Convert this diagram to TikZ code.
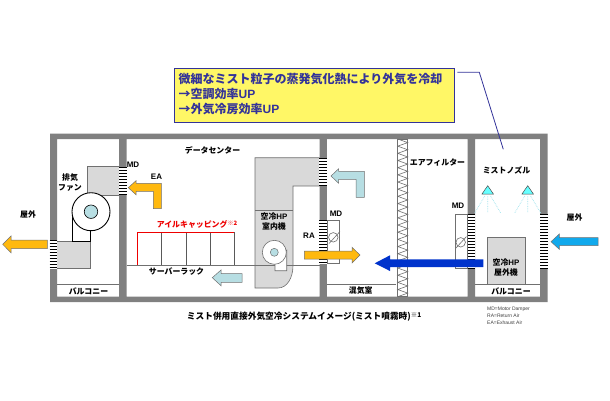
\documentclass[tikz,border=0pt]{standalone}
\usepackage{fontspec}
\setmainfont{Liberation Sans}
\newfontfamily\cjk{Noto Sans CJK JP}
\definecolor{wallg}{HTML}{808080}
\definecolor{boxg}{HTML}{D9D9D9}
\definecolor{edgeg}{HTML}{707070}
\definecolor{paleb}{HTML}{B7DEE3}
\definecolor{orng}{HTML}{FFB90F}
\definecolor{navy}{HTML}{333399}
\definecolor{deepb}{HTML}{0033CC}
\definecolor{skyb}{HTML}{11A9EC}
\definecolor{noz}{HTML}{66FFFF}
\definecolor{spray}{HTML}{9FE3EE}
\definecolor{capred}{HTML}{EE0000}
\newcommand{\mylatin}[1]{{\rmfamily\bfseries #1}}
\newcommand{\mylouver}[3]{%
  \fill[white] (#1,#2) rectangle ++(7.5,#3-#2);
  \foreach \yy in {#2,...,#3}{\pgfmathparse{mod(\yy-#2,3)==0}\ifnum\pgfmathresult=1 \draw[black,line width=1pt] (#1,\yy+0.5) -- ++(7.5,0);\fi}}
\tikzset{
  lab/.style={font=\cjk\bfseries\fontsize{7.9}{9}\selectfont,inner sep=0pt,align=center},
  lat/.style={font=\bfseries\fontsize{8}{9}\selectfont,inner sep=0pt},
  gbox/.style={fill=boxg,draw=edgeg,line width=0.6pt},
  thin1/.style={draw=edgeg,line width=0.6pt},
  orarrow/.style={fill=orng,draw=edgeg,line width=0.5pt},
  palearrow/.style={fill=paleb,draw=edgeg,line width=0.5pt},
  fanline/.style={draw=black,line width=0.9pt},
  calltext/.style={anchor=west,inner sep=0pt,text=navy,font=\cjk\bfseries\fontsize{12}{12}\selectfont},
  legend/.style={anchor=west,inner sep=0pt,text=black!75,font=\fontsize{5}{6}\selectfont},
}
\begin{document}
\begin{tikzpicture}[x=1pt,y=-1pt]
\useasboundingbox (0,0) rectangle (610,400);
\fill[white] (0,0) rectangle (610,400);
% walls
\fill[wallg,even odd rule] (50,133.5) rectangle (547.5,302)
  (57,139) rectangle (119,296.7) (126.5,139) rectangle (319.5,296.7)
  (326.8,139) rectangle (467.5,296.7) (475,139) rectangle (540,296.7);
% balcony and floor lines
\draw[thin1] (57,284) -- (119,284);
\draw[thin1] (475,284) -- (540,284);
\draw[thin1] (326.8,284) -- (395.7,284);
\draw[thin1] (126.5,265.4) -- (319.5,265.4);
% filter
\draw[thin1,fill=white] (397.7,139) rectangle (407.7,296.7);
\draw[draw=edgeg,line width=0.6pt] (397.7,139)
  \foreach \k in {1,...,22}{ -- (407.7,139+7.168*\k-3.584) -- (397.7,139+7.168*\k)};
% exhaust ducts
\draw[gbox] (119,166.7) -- (87.3,166.7) -- (87.3,195.3) -- (119,195.3);
\draw[gbox] (57,241) -- (90.3,241) -- (90.3,268.3) -- (57,268.3);
\draw[fanline] (72,215) -- (72,241) -- (90.3,241) -- (90.3,225);
\node[circle,draw=black,line width=0.9pt,fill=white,minimum size=38pt,inner sep=0pt] (fanA) at (91,211.7) {};
\node[circle,draw=black,line width=0.6pt,fill=paleb,minimum size=13.5pt,inner sep=0pt] (hubA) at (91,211.7) {};
% indoor unit
\draw[gbox] (319.5,157.7) -- (255,157.7) -- (255,288) -- (278,288)
  .. controls (287,288) and (293,278) .. (293,265.4) -- (293,186) -- (319.5,186);
\draw[thin1] (255,210) -- (293,210);
\draw[thin1] (255,265.4) -- (293,265.4);
\draw[draw=edgeg,line width=0.6pt,fill=white] (275,262) -- (275,270.7) -- (286.7,270.7) -- (286.7,250) -- cycle;
\node[circle,draw=edgeg,line width=0.6pt,fill=white,minimum size=24pt,inner sep=0pt] (fanB) at (274.3,252.3) {};
\node[circle,draw=edgeg,line width=0.5pt,fill=paleb,minimum size=8pt,inner sep=0pt] (hubB) at (274.3,252.3) {};
% aisle capping
\draw[draw=black!65,line width=0.7pt] (161.7,232.3) -- (161.7,265.4) (186,232.3) -- (186,265.4) (210.3,232.3) -- (210.3,265.4) (234.3,232.3) -- (234.3,265.4);
\draw[capred,line width=0.9pt] (137.2,265.4) -- (137.2,232.3) -- (234.3,232.3);
% outdoor unit
\draw[gbox] (487.3,284) -- (487.3,237.3) -- (525.3,237.3) -- (525.3,284);
% MD boxes
\draw[thin1,fill=white] (326.8,220.7) rectangle (339.3,263.3);
\draw[thin1,fill=white] (455,214) rectangle (467.5,268.3);
\node[circle,draw=edgeg,line width=0.6pt,minimum size=9.5pt,inner sep=0pt] (damA) at (333.3,237.3) {};
\node[circle,draw=edgeg,line width=0.6pt,minimum size=9.5pt,inner sep=0pt] (damB) at (460.7,242.3) {};
\draw[draw=edgeg,line width=0.6pt] (329,243.5) -- (340,231.5);
\draw[draw=edgeg,line width=0.6pt] (455.5,248.5) -- (466.5,236.5);
% louvers
\mylouver{119}{167}{195}
\mylouver{49.5}{240}{269}
\mylouver{319.3}{158}{186}
\mylouver{319.3}{220}{264}
\mylouver{467.5}{214}{269}
\mylouver{540}{214}{269}
% arrows
\draw[orarrow] (128.3,187.7) -- (136,180.7) -- (136,183.3) -- (161.3,183.3) -- (161.3,208.7) -- (153.3,208.7) -- (153.3,191.3) -- (136,191.3) -- (136,194.7) -- cycle;
\draw[orarrow] (2.7,244.3) -- (11,236) -- (11,240) -- (47.3,240) -- (47.3,248.7) -- (11,248.7) -- (11,252.7) -- cycle;
\draw[orarrow] (304.3,251) -- (352,251) -- (352,247.3) -- (360,255) -- (352,263) -- (352,259) -- (304.3,259) -- cycle;
\draw[palearrow] (331,176) -- (338.7,168.7) -- (338.7,171.3) -- (364.3,171.3) -- (364.3,197.3) -- (356,197.3) -- (356,179.3) -- (338.7,179.3) -- (338.7,183.3) -- cycle;
\draw[palearrow] (212.3,277.7) -- (221,270) -- (221,273.7) -- (242,273.7) -- (242,282.3) -- (221,282.3) -- (221,285.7) -- cycle;
\fill[deepb] (374.7,263.3) -- (390,255.3) -- (390,259.3) -- (483.3,259.3) -- (483.3,267) -- (390,267) -- (390,271) -- cycle;
\draw[fill=skyb,draw=edgeg,line width=0.5pt] (551,241.7) -- (559.3,234) -- (559.3,237.7) -- (598,237.7) -- (598,245.7) -- (559.3,245.7) -- (559.3,249.3) -- cycle;
% nozzles
\foreach \nx in {487.7,527.7}{
  \draw[spray,line width=0.7pt,densely dotted] (\nx-3,196) -- (\nx-13,213) (\nx,196) -- (\nx,212) (\nx+3,196) -- (\nx+13,213);
  \draw[fill=noz,draw=black!70,line width=0.5pt] (\nx,185.7) -- (\nx+5.7,194) -- (\nx-5.7,194) -- cycle;
}
% callout
\node[draw=navy,line width=1pt,fill=yellow!60!white,anchor=north west,minimum width=280.6pt,minimum height=54pt,inner sep=0pt] (callout) at (173.7,68.3) {};
\node[calltext] (ct1) at (178.5,79) {微細なミスト粒子の蒸発気化熱により外気を冷却};
\node[calltext] (ct2) at (178.5,94) {→空調効率\mylatin{UP}};
\node[calltext] (ct3) at (178.5,109.5) {→外気冷房効率\mylatin{UP}};
\coordinate (leadA) at (457.3,72.3);
\coordinate (leadB) at (479.3,72.3);
\coordinate (leadC) at (503.3,149.3);
\draw[navy,line width=0.8pt] (leadA) -- (leadB) -- (leadC);
% labels
\node[lab] (t1) at (212.5,150.5) {データセンター};
\node[lab] (t2) at (70,178) {排気};
\node[lab] (t3) at (70,187.5) {ファン};
\node[lab] (t4) at (28,214.6) {屋外};
\node[lab] (t5) at (88.5,291) {バルコニー};
\node[lab,text=capred] (t6) at (197,224.7) {アイルキャッピング\raisebox{2.5pt}{\fontsize{6}{6}\selectfont ※2}};
\node[lab] (t7) at (176.5,272) {サーバーラック};
\node[lat] (t8) at (133,164.7) {MD};
\node[lat] (t9) at (156.5,177) {EA};
\node[lab] (t10) at (274,216.3) {空冷\mylatin{HP}};
\node[lab] (t11) at (274,226) {室内機};
\node[lat] (t12) at (336,213.3) {MD};
\node[lat] (t13) at (309,235.7) {RA};
\node[lab] (t14) at (360.7,291) {混気室};
\node[lab] (t15) at (437.5,162.5) {エアフィルター};
\node[lat] (t16) at (458,206) {MD};
\node[lab] (t17) at (506.5,170) {ミストノズル};
\node[lab] (t18) at (506,262.7) {空冷\mylatin{HP}};
\node[lab] (t19) at (506,272.7) {屋外機};
\node[lab] (t20) at (511,291) {バルコニー};
\node[lab] (t21) at (574.5,217.7) {屋外};
\node[anchor=west,inner sep=0pt,font=\cjk\bfseries\fontsize{8.7}{9}\selectfont] (title) at (186.7,316.7) {ミスト併用直接外気空冷システムイメージ(ミスト噴霧時)\raisebox{2.5pt}{\fontsize{6.5}{6}\selectfont ※1}};
\node[legend] (l1) at (487,309.3) {MD=Motor Damper};
\node[legend] (l2) at (487,315.8) {RA=Return Air};
\node[legend] (l3) at (487,323) {EA=Exhaust Air};
\end{tikzpicture}
\end{document}
